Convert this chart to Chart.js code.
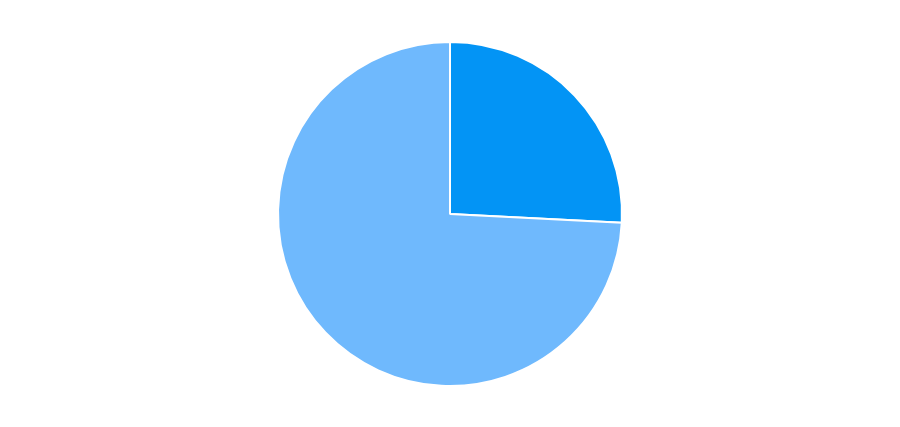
<!DOCTYPE html>
<html>
<head>
<meta charset="utf-8">
<script src="https://cdn.jsdelivr.net/npm/chart.js@4"></script>
<style>
  html, body { margin: 0; padding: 0; background: #ffffff; }
  #box { width: 900px; height: 427px; }
</style>
</head>
<body>
<div id="box"><canvas id="pie"></canvas></div>
<script>
// dados do grafico de pizza
const categorias = ['A', 'B'];
const valores = [25.8, 74.2];
const cores = ['#0394f5', '#6fb9fd'];

const dadosPie = {
    labels: categorias,
    datasets: [{
        data: valores,
        backgroundColor: cores,
        borderColor: '#ffffff',
        borderWidth: 2
    }]
};

const configPie = {
    type: 'pie',
    data: dadosPie,
    options: {
        responsive: true,
        maintainAspectRatio: false,
        animation: false,
        layout: {
            padding: { top: 41, bottom: 40 }
        },
        plugins: {
            legend: { display: false },
            tooltip: { enabled: false }
        }
    }
};

new Chart(document.getElementById('pie').getContext('2d'), configPie);
</script>
</body>
</html>
